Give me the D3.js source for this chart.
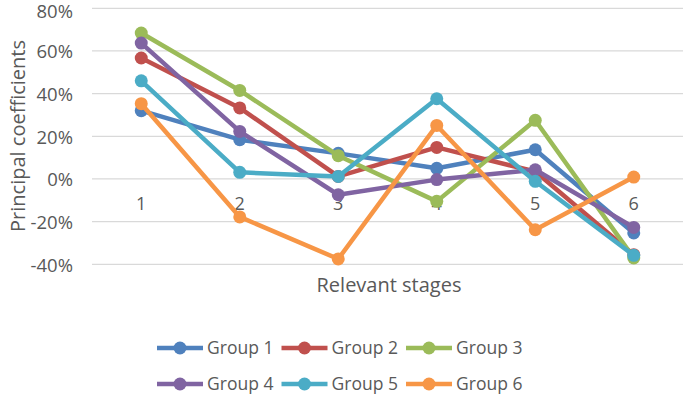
<!DOCTYPE html>
<html>
<head>
<meta charset="utf-8">
<script src="https://d3js.org/d3.v7.min.js"></script>
<style>
  body { margin: 0; background: #fff; }
  text { font-family: "Open Sans", sans-serif; fill: #595959; }
</style>
</head>
<body>
<div id="container"></div>
<script>
var stages = ["1", "2", "3", "4", "5", "6"];
var groups = ["Group 1", "Group 2", "Group 3", "Group 4", "Group 5", "Group 6"];
var colors = ["#4F81BD", "#C0504D", "#9BBB59", "#8064A2", "#4BACC6", "#F79646"];
var group1 = [0.32, 0.184, 0.12, 0.05, 0.137, -0.253];
var group2 = [0.567, 0.333, 0.012, 0.148, 0.035, -0.355];
var group3 = [0.684, 0.415, 0.109, -0.105, 0.275, -0.37];
var group4 = [0.637, 0.223, -0.074, -0.003, 0.043, -0.227];
var group5 = [0.46, 0.031, 0.012, 0.376, -0.011, -0.358];
var group6 = [0.353, -0.178, -0.375, 0.251, -0.238, 0.009];
var yTicks = [-0.4, -0.2, 0, 0.2, 0.4, 0.6, 0.8];
var series = [group1, group2, group3, group4, group5, group6];

var width = 685, height = 398;
var svg = d3.select("#container").append("svg")
    .attr("width", width).attr("height", height);

var x = d3.scaleBand().domain(stages).range([92, 683]);
var y = d3.scaleLinear().domain([-0.4, 0.8]).range([264.3, 8.3]);

// gridlines
svg.append("g").selectAll("line")
    .data(yTicks).enter().append("line")
    .attr("x1", 92).attr("x2", 683)
    .attr("y1", function(d) { return y(d); })
    .attr("y2", function(d) { return y(d); })
    .attr("stroke", "#d9d9d9").attr("stroke-width", 1.3);

var pct = function(d) { return Math.round(d * 100) + "%"; };

// y axis labels
var yAxis = svg.append("g")
    .attr("transform", "translate(76,1)")
    .call(d3.axisLeft(y).tickValues(yTicks).tickSize(0).tickPadding(3)
        .tickFormat(pct));
yAxis.select(".domain").remove();
yAxis.selectAll("text").style("font-size", "18.5px").attr("fill", "#595959")
    .style("font-family", "'Open Sans', sans-serif");
// top label would touch the edge, nudge it down a little
yAxis.selectAll(".tick").filter(function(d) { return d === 0.8; })
    .select("text").attr("dy", "0.45em");

// x axis labels sit just below zero line
var xAxis = svg.append("g")
    .attr("transform", "translate(0," + y(0) + ")")
    .call(d3.axisBottom(x).tickSize(0).tickPadding(18));
xAxis.select(".domain").remove();
xAxis.selectAll("text").style("font-size", "18px").attr("fill", "#595959")
    .style("font-family", "'Open Sans', sans-serif");

var line = d3.line()
    .x(function(d, i) { return x(stages[i]) + x.bandwidth() / 2; })
    .y(function(d) { return y(d); });

series.forEach(function(s, k) {
    var g = svg.append("g");
    g.append("path").datum(s)
        .attr("d", line)
        .attr("fill", "none")
        .attr("stroke", colors[k])
        .attr("stroke-width", 4.5)
        .attr("stroke-linejoin", "round");
    g.selectAll("circle").data(s).enter().append("circle")
        .attr("cx", function(d, i) { return x(stages[i]) + x.bandwidth() / 2; })
        .attr("cy", function(d) { return y(d); })
        .attr("r", 6.5)
        .attr("fill", colors[k]);
});

// axis titles
svg.append("text")
    .attr("transform", "translate(18,136) rotate(-90)")
    .attr("text-anchor", "middle")
    .attr("dy", "0.35em")
    .style("font-size", "20px")
    .text("Principal coefficients");

svg.append("text")
    .attr("x", 389).attr("y", 292)
    .attr("text-anchor", "middle")
    .style("font-size", "20px")
    .text("Relevant stages");

// legend
var legend = svg.append("g").selectAll("g")
    .data(groups).enter().append("g")
    .attr("transform", function(d, i) {
        return "translate(" + (157 + (i % 3) * 124.5) + "," + (348 + Math.floor(i / 3) * 36) + ")";
    });
legend.append("line")
    .attr("x1", 0).attr("x2", 46)
    .attr("stroke", function(d, i) { return colors[i]; })
    .attr("stroke-width", 4.5);
legend.append("circle")
    .attr("cx", 23).attr("r", 6.5)
    .attr("fill", function(d, i) { return colors[i]; });
legend.append("text")
    .attr("x", 50).attr("dy", "0.35em")
    .style("font-size", "17.5px")
    .text(function(d) { return d; });
</script>
</body>
</html>
